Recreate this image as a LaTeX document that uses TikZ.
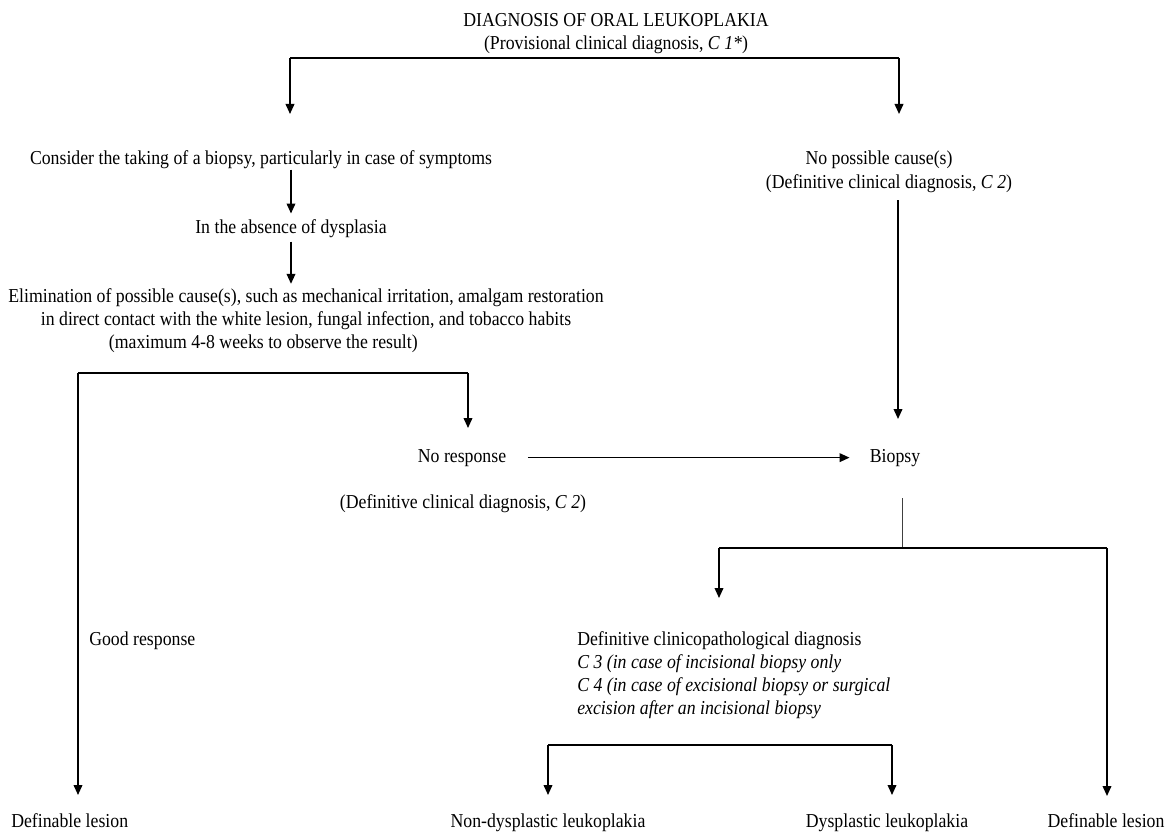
\documentclass[tikz,border=0pt]{standalone}
\usepackage{fontspec}
\setmainfont{Liberation Serif}[FakeStretch=0.9]
\usetikzlibrary{arrows.meta, positioning}

\begin{document}
\begin{tikzpicture}[x=0.75pt, y=-0.75pt,
    txt/.style={inner sep=0pt, anchor=base, align=center, font=\fontsize{14.8pt}{17.25pt}\selectfont},
    link/.style={line width=1.2pt},
    stem/.style={line width=0.7pt, black!75},
    flow/.style={link, -{Triangle[length=7.5pt, width=6.5pt]}}
]
\useasboundingbox (0,0) rectangle (1166,831);

% text (multi-line nodes sit on their last line)
\node[txt] (diag) at (616,50) {DIAGNOSIS OF ORAL LEUKOPLAKIA\\(Provisional clinical diagnosis, \textit{C 1*})};
\node[txt] (consider) at (261,165) {Consider the taking of a biopsy, particularly in case of symptoms};
\node[txt] (nocause) at (889,188) {No possible cause(s)\hspace*{15pt}\\(Definitive clinical diagnosis, \textit{C 2})};
\node[txt] (absence) at (291,233) {In the absence of dysplasia};
\node[txt] (elim) at (306,348) {Elimination of possible cause(s), such as mechanical irritation, amalgam restoration\\in direct contact with the white lesion, fungal infection, and tobacco habits\\(maximum 4-8 weeks to observe the result)\hspace*{64pt}};
\node[txt] (noresp) at (462,462) {No response};
\node[txt] (biopsy) at (895,462) {Biopsy};
\node[txt] (defc2) at (463,508) {(Definitive clinical diagnosis, \textit{C 2})};
\node[txt, anchor=base west] (good) at (89,645) {Good response};
\node[txt, anchor=base west, align=left] (clinico) at (577,714) {Definitive clinicopathological diagnosis\\\textit{C 3 (in case of incisional biopsy only}\\\textit{C 4 (in case of excisional biopsy or surgical}\\\textit{excision after an incisional biopsy}};
\node[txt, anchor=base west] (lesionL) at (11,827) {Definable lesion};
\node[txt] (nondys) at (548,827) {Non-dysplastic leukoplakia};
\node[txt] (dys) at (887,827) {Dysplastic leukoplakia};
\node[txt] (lesionR) at (1106,827) {Definable lesion};

% forks and free ends
\coordinate (topL) at (290,58);
\coordinate (topR) at (899,58);
\coordinate (considerIn) at (290,114);
\coordinate (nocauseIn) at (899,114);
\coordinate (nocauseOut) at (898,200);
\coordinate (biopsyIn) at (898,419);
\coordinate (respL) at (78,373);
\coordinate (respR) at (468,373);
\coordinate (norespIn) at (468,428);
\coordinate (lesionLIn) at (78,795);
\coordinate (bioOut) at (902,498);
\coordinate (bioL) at (719,548);
\coordinate (bioR) at (1107,548);
\coordinate (clinicoIn) at (719,598);
\coordinate (lesionRIn) at (1107,796);
\coordinate (dysL) at (548,745);
\coordinate (dysR) at (892,745);
\coordinate (nondysIn) at (548,795);
\coordinate (dysIn) at (892,795);

\draw[link] (topL) -- (topR);
\draw[flow] (topL) -- (considerIn);
\draw[flow] (topR) -- (nocauseIn);

\draw[flow, shorten >=4pt] (consider.south -| absence.north) -- (absence.north);
\draw[flow, shorten <=3pt, shorten >=3pt] (absence.south) -- (absence.south |- elim.north);
\draw[flow] (nocauseOut) -- (biopsyIn);

\draw[link] (respL) -- (respR);
\draw[flow] (respR) -- (norespIn);
\draw[flow] (respL) -- (lesionLIn);
\draw[flow, shorten <=16pt, shorten >=15pt] (noresp.east) -- (noresp.east -| biopsy.west);

\draw[stem] (bioOut) -- (bioOut |- bioL);
\draw[link] (bioL) -- (bioR);
\draw[flow] (bioL) -- (clinicoIn);
\draw[flow] (bioR) -- (lesionRIn);

\draw[link] (dysL) -- (dysR);
\draw[flow] (dysL) -- (nondysIn);
\draw[flow] (dysR) -- (dysIn);
\end{tikzpicture}
\end{document}
